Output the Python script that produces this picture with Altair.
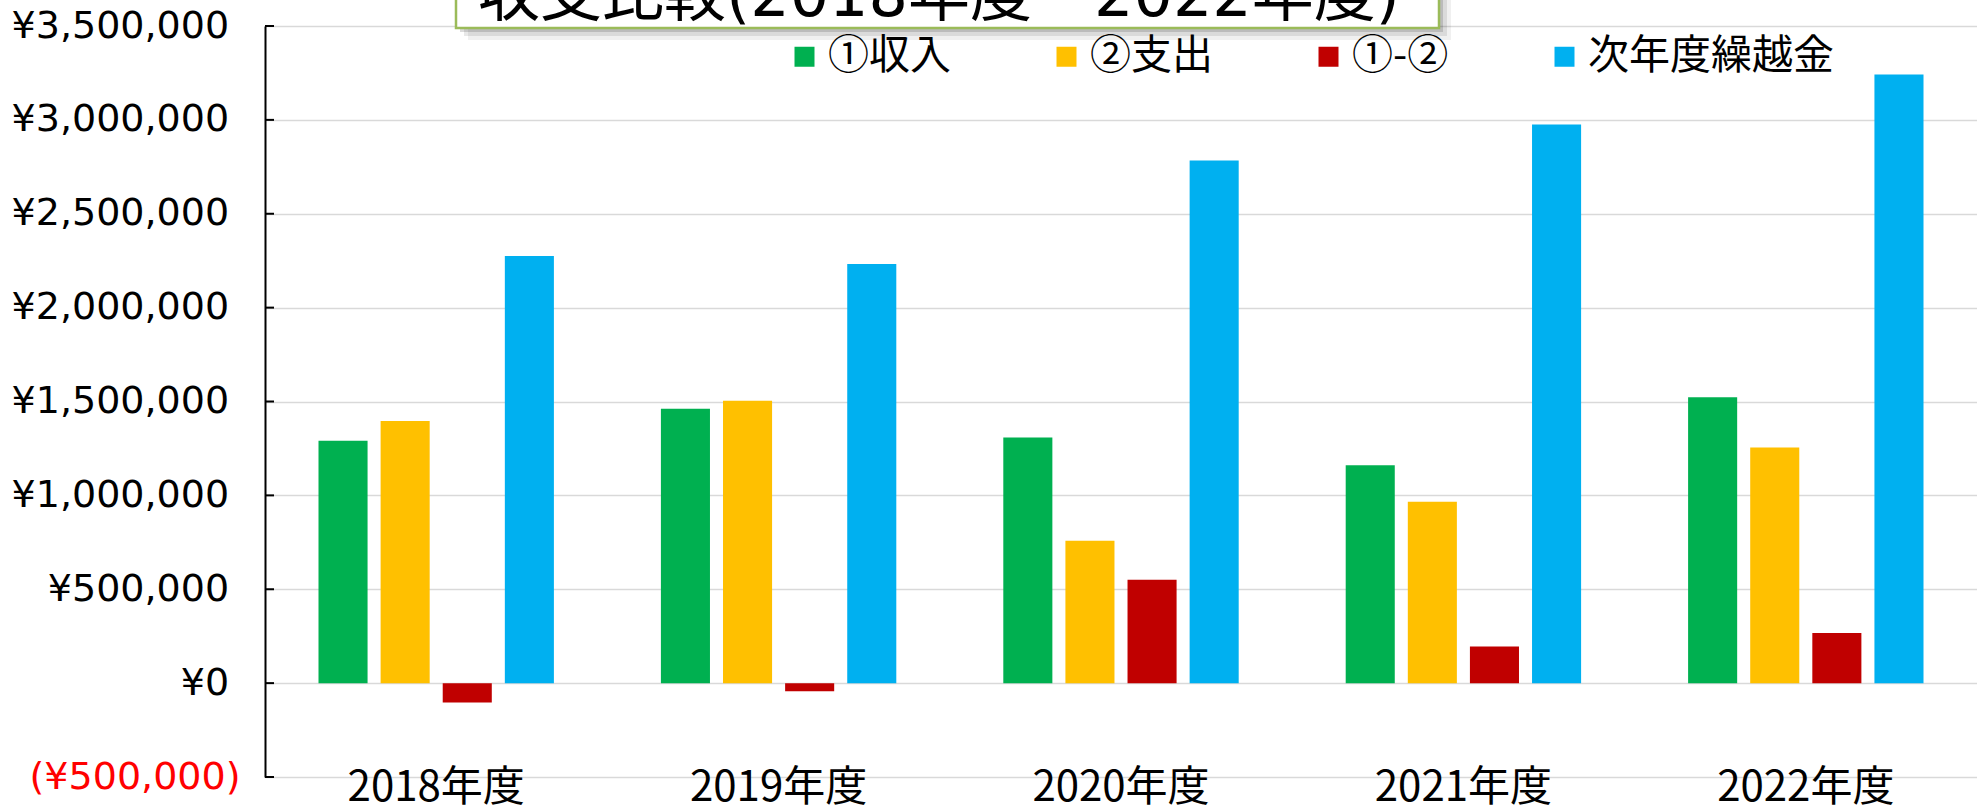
import altair as alt
import pandas as pd

years = ["2018年度", "2019年度", "2020年度", "2021年度", "2022年度"]
series = ["①収入", "②支出", "①-②", "次年度繰越金"]
income = [1291000, 1461000, 1308000, 1161000, 1522000]
expense = [1396000, 1504000, 758000, 966000, 1255000]
diff = [-103000, -43000, 550000, 195000, 267000]
carry = [2275000, 2233000, 2784000, 2975000, 3242000]
colors = ["#00B050", "#FFC000", "#C00000", "#00B0F0"]
y_ticks = [-500000, 0, 500000, 1000000, 1500000, 2000000, 2500000, 3000000, 3500000]
title_text = "収支比較(2018年度～2022年度)"

rows = []
for i, yr in enumerate(years):
    for s, vals in zip(series, [income, expense, diff, carry]):
        rows.append({"year": yr, "series": s, "value": vals[i]})
df = pd.DataFrame(rows)
tick_df = pd.DataFrame({"v": y_ticks})

yscale = alt.Scale(domain=[y_ticks[0], y_ticks[-1]], nice=False, zero=False)

label_expr = ("datum.value < 0 ? '(¥' + format(-datum.value, ',') + ')' : "
              "'¥' + format(datum.value, ',') + '\u2009\u200a\u200b'")

bars = alt.Chart(df).mark_bar().encode(
    x=alt.X("year:N", sort=years,
            scale=alt.Scale(paddingInner=0.3125, paddingOuter=0.15625),
            axis=alt.Axis(title=None, labelAngle=0, ticks=False, domain=False,
                          labelFont="Noto Sans CJK JP", labelFontSize=42,
                          labelColor="black", labelPadding=-10, grid=False)),
    xOffset=alt.XOffset("series:N", sort=series,
                        scale=alt.Scale(paddingInner=0.21, paddingOuter=0)),
    y=alt.Y("value:Q", scale=yscale,
            axis=alt.Axis(title=None, values=y_ticks, labelExpr=label_expr,
                          labelFont="DejaVu Sans", labelFontSize=38, labelLimit=400,
                          labelColor={"condition": {"test": "datum.value < 0", "value": "#FF0000"},
                                      "value": "black"},
                          labelPadding=25, ticks=False, domain=True,
                          domainColor="black", domainWidth=2,
                          grid=True, gridColor="#D9D9D9", gridWidth=1.5)),
    color=alt.Color("series:N", sort=series,
                    scale=alt.Scale(domain=series, range=colors),
                    legend=alt.Legend(title=None, orient="none", legendX=519, legendY=10,
                                      direction="horizontal", columns=4,
                                      columnPadding=95, symbolType="square",
                                      symbolSize=400, symbolStrokeWidth=0,
                                      labelFont="Noto Sans CJK JP", labelFontSize=41,
                                      labelColor="black", labelOffset=3, padding=0,
                                      labelLimit=400)),
)

ticks = alt.Chart(tick_df).mark_rule(color="black", strokeWidth=2).encode(
    y=alt.Y("v:Q", scale=yscale),
    x=alt.value(0), x2=alt.value(9),
)

one = alt.Data(values=[{"t": title_text}])
shadow_layers = []
for off, op in [(12, 0.06), (8, 0.09), (4, 0.14)]:
    shadow_layers.append(
        alt.Chart(one).mark_rect(color="#000000", opacity=op).encode(
            x=alt.value(191 + off), x2=alt.value(1174 + off),
            y=alt.value(-80), y2=alt.value(2 + off),
        )
    )
box = alt.Chart(one).mark_rect(fill="white", stroke="#9BBB59", strokeWidth=2.5).encode(
    x=alt.value(191), x2=alt.value(1174), y=alt.value(-80), y2=alt.value(2),
)
title = alt.Chart(one).mark_text(font="DejaVu Sans, Noto Sans CJK JP", fontSize=62, color="black",
                                 align="center", baseline="alphabetic").encode(
    x=alt.value(674), y=alt.value(-10), text="t:N",
)

chart = alt.layer(bars, ticks, *shadow_layers, box, title).properties(
    width=1712, height=751,
    autosize=alt.AutoSizeParams(type="none"),
    padding={"left": 265, "top": 26, "right": 0, "bottom": 29},
    background="white",
).configure_view(stroke=None)

chart.save("out.html", embed_options={"renderer": "svg", "actions": False})
